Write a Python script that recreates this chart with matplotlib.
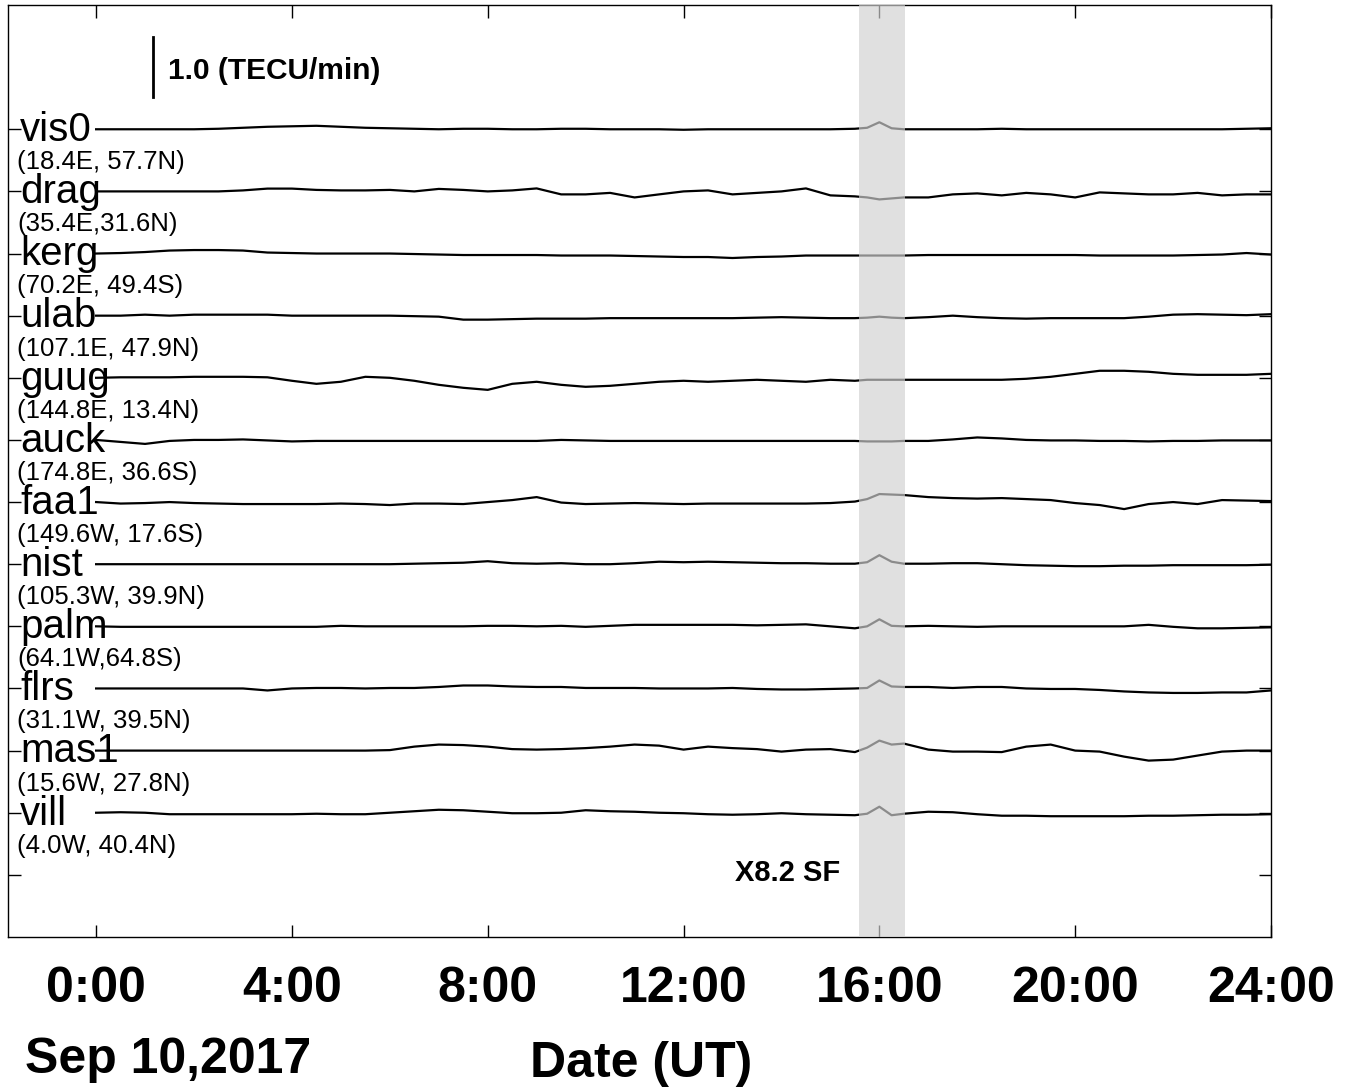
import matplotlib
matplotlib.use("Agg")
import matplotlib.pyplot as plt

plt.rcParams['font.family'] = ['Liberation Sans', 'DejaVu Sans']

# time grid (UT hours), finer around the flare
hours = [0, 0.5, 1, 1.5, 2, 2.5, 3, 3.5, 4, 4.5, 5, 5.5, 6, 6.5, 7, 7.5, 8, 8.5,
         9, 9.5, 10, 10.5, 11, 11.5, 12, 12.5, 13, 13.5, 14, 14.5, 15, 15.5,
         15.75, 16, 16.25, 16.5, 17, 17.5, 18, 18.5, 19, 19.5, 20, 20.5, 21,
         21.5, 22, 22.5, 23, 23.5, 24]

stations = ['vis0', 'drag', 'kerg', 'ulab', 'guug', 'auck',
            'faa1', 'nist', 'palm', 'flrs', 'mas1', 'vill']
coords = ['(18.4E, 57.7N)', '(35.4E,31.6N)', '(70.2E, 49.4S)', '(107.1E, 47.9N)',
          '(144.8E, 13.4N)', '(174.8E, 36.6S)', '(149.6W, 17.6S)', '(105.3W, 39.9N)',
          '(64.1W,64.8S)', '(31.1W, 39.5N)', '(15.6W, 27.8N)', '(4.0W, 40.4N)']

# rate of TEC change (TECU/min)
vis0 = [0, 0, 0, 0, 0, 0.008, 0.024, 0.04, 0.048, 0.056, 0.04, 0.024, 0.016, 0.008, 0, 0.008, 0.008,
        0, 0, 0.008, 0.008, 0, 0, 0, -0.008, 0, 0, 0, 0, 0, 0, 0.008,
        0.024, 0.113, 0.016, 0, 0, 0, 0, 0.008, 0, 0, 0, 0, 0, 0, 0, 0, 0, 0.008, 0.016]
drag = [0, 0, 0, 0, 0, 0, 0.016, 0.045, 0.045, 0.024, 0.016, 0.016, 0.024, 0, 0.04, 0.024, 0,
        0.016, 0.048, -0.048, -0.048, -0.024, -0.097, -0.048, 0, 0.016, -0.048, -0.024, 0, 0.048, -0.064, -0.08,
        -0.097, -0.129, -0.113, -0.097, -0.097, -0.048, -0.032, -0.064, -0.024, -0.048, -0.097, -0.016, -0.032,
        -0.048, -0.048, -0.024, -0.064, -0.048, -0.048]
kerg = [0, 0.008, 0.024, 0.048, 0.056, 0.056, 0.048, 0.016, 0.008, 0, 0, 0, 0, -0.008, -0.016, -0.024, -0.024,
        -0.024, -0.024, -0.032, -0.032, -0.032, -0.04, -0.048, -0.056, -0.056, -0.072, -0.056, -0.048, -0.032, -0.032, -0.032,
        -0.032, -0.032, -0.032, -0.032, -0.024, -0.024, -0.024, -0.024, -0.024, -0.024, -0.024, -0.032, -0.032,
        -0.032, -0.032, -0.024, -0.016, 0.008, -0.016]
ulab = [0, 0, 0.016, 0, 0.016, 0.016, 0.016, 0.016, 0, 0, 0, 0, 0, -0.008, -0.016, -0.064, -0.064,
        -0.056, -0.048, -0.048, -0.048, -0.04, -0.04, -0.04, -0.04, -0.04, -0.04, -0.032, -0.024, -0.032, -0.04, -0.04,
        -0.032, -0.016, -0.032, -0.04, -0.024, 0, -0.024, -0.04, -0.048, -0.04, -0.04, -0.04, -0.04,
        -0.016, 0.016, 0.024, 0.016, 0.008, 0.024]
guug = [0, 0.008, 0.008, 0.008, 0.016, 0.016, 0.016, 0.008, -0.048, -0.097, -0.064, 0.016, 0, -0.048, -0.113, -0.161, -0.194,
        -0.097, -0.064, -0.113, -0.145, -0.129, -0.097, -0.064, -0.048, -0.064, -0.048, -0.032, -0.048, -0.064, -0.032, -0.048,
        -0.032, -0.032, -0.032, -0.032, -0.032, -0.032, -0.032, -0.032, -0.016, 0.016, 0.064, 0.113, 0.113,
        0.097, 0.064, 0.048, 0.048, 0.048, 0.064]
auck = [0, -0.032, -0.064, -0.016, 0, 0, 0.008, -0.008, -0.024, -0.016, -0.016, -0.016, -0.016, -0.016, -0.016, -0.016, -0.016,
        -0.016, -0.016, 0, -0.008, -0.016, -0.016, -0.016, -0.016, -0.016, -0.016, -0.016, -0.016, -0.016, -0.016, -0.016,
        -0.024, -0.024, -0.024, -0.016, -0.016, 0.008, 0.04, 0.024, 0, -0.008, -0.008, -0.016, -0.016,
        -0.024, -0.016, -0.016, -0.008, -0.008, -0.008]
faa1 = [0, -0.024, -0.016, 0, -0.016, -0.024, -0.032, -0.032, -0.032, -0.032, -0.024, -0.032, -0.048, -0.024, -0.024, -0.032, 0,
        0.032, 0.08, -0.008, -0.032, -0.024, -0.016, -0.024, -0.032, -0.024, -0.024, -0.024, -0.024, -0.024, -0.016, 0.008,
        0.048, 0.129, 0.121, 0.113, 0.08, 0.064, 0.056, 0.064, 0.048, 0.032, -0.016, -0.048, -0.113,
        -0.032, 0, -0.032, 0.032, 0.024, 0.016]
nist = [0, 0, 0, 0, 0, 0, 0, 0, 0, 0, 0, 0, 0, 0.008, 0.016, 0.024, 0.048,
        0.016, 0.008, 0.016, 0, 0, 0.016, 0.04, 0.032, 0.04, 0.032, 0.024, 0.016, 0.016, 0.008, 0.008,
        0.032, 0.145, 0.04, 0.008, 0.008, 0.016, 0.016, 0, -0.016, -0.024, -0.032, -0.032, -0.024,
        -0.024, -0.016, -0.016, -0.016, -0.016, -0.008]
palm = [0, -0.008, -0.008, -0.008, -0.008, -0.008, -0.008, -0.008, -0.008, -0.008, 0.008, 0, 0, 0, 0, 0, 0.008,
        0.008, 0, 0.008, -0.008, 0.008, 0.024, 0.024, 0.024, 0.024, 0.024, 0.016, 0.024, 0.032, 0, -0.032,
        0, 0.113, 0.008, 0, 0.008, 0, -0.008, 0, 0, 0, 0, 0, 0,
        0.024, -0.008, -0.032, -0.032, -0.024, -0.016]
flrs = [0, 0, 0, 0, 0, 0, 0, -0.032, 0, 0.008, 0.008, 0, 0.008, 0.008, 0.024, 0.048, 0.048,
        0.032, 0.024, 0.024, 0.008, 0.008, 0.008, 0, 0, 0, 0.008, -0.008, -0.016, -0.016, -0.008, 0,
        0.008, 0.129, 0.032, 0.024, 0.024, 0.008, 0.024, 0.024, 0, -0.008, -0.008, -0.024, -0.048,
        -0.064, -0.072, -0.072, -0.064, -0.064, -0.032]
mas1 = [0, 0, 0, 0, 0, 0, 0, 0, 0, 0, 0, 0, 0.008, 0.064, 0.097, 0.089, 0.064,
        0.024, 0.016, 0.024, 0.04, 0.064, 0.097, 0.08, 0.016, 0.064, 0.04, 0.024, -0.016, 0.016, 0.024, -0.024,
        0.048, 0.161, 0.097, 0.113, 0.016, -0.016, -0.016, -0.024, 0.064, 0.097, 0, -0.016, -0.097,
        -0.161, -0.145, -0.08, -0.016, 0, 0]
vill = [0, 0.008, 0, -0.024, -0.024, -0.024, -0.024, -0.024, -0.024, -0.016, -0.024, -0.024, 0, 0.024, 0.048, 0.04, 0.016,
        -0.008, -0.008, 0, 0.04, 0.024, 0.016, 0, -0.008, -0.024, -0.032, -0.024, -0.008, -0.024, -0.032, -0.04,
        -0.016, 0.097, -0.04, -0.016, 0.016, 0.008, -0.024, -0.048, -0.048, -0.056, -0.056, -0.056, -0.056,
        -0.048, -0.048, -0.04, -0.032, -0.032, -0.024]

series = [vis0, drag, kerg, ulab, guug, auck, faa1, nist, palm, flrs, mas1, vill]
for name, s in zip(stations, series):
    assert len(s) == len(hours), (name, len(s))

flare_start, flare_end = 15.58, 16.52
xticks = [0, 4, 8, 12, 16, 20, 24]
xticklabels = ['0:00', '4:00', '8:00', '12:00', '16:00', '20:00', '24:00']

fig = plt.figure(figsize=(13.57, 10.92), dpi=100)
ax = fig.add_axes([8 / 1357, 1 - 937 / 1092, 1263 / 1357, 932 / 1092])

n = len(stations)
for i, (name, s) in enumerate(zip(stations, series)):
    off = n - i
    ax.plot(hours, [off + v for v in s], color='black', lw=1.6, zorder=2)
    ax.text(-1.55, off - 0.19, name, fontsize=29, va='baseline', ha='left', zorder=4)
    ax.text(-1.61, off - 0.53, coords[i], fontsize=18.5, va='center', ha='left', zorder=4)

# flare window drawn over the traces
ax.axvspan(flare_start, flare_end, color=(0.82, 0.82, 0.82), alpha=0.67, lw=0, zorder=3)
ax.text(13.05, 0.03, 'X8.2 SF', fontsize=21, fontweight='bold', va='center', ha='left')

# scale bar
ax.plot([1.16, 1.16], [12.52, 13.48], color='black', lw=2)
ax.text(1.47, 12.94, '1.0 (TECU/min)', fontsize=21.5, fontweight='bold', va='center', ha='left')

ax.set_xlim(-1.8, 24)
ax.set_ylim(-1, 14)
ax.set_xticks(xticks)
ax.set_xticklabels(xticklabels, fontsize=36, fontweight='bold')
ax.set_yticks(range(0, n + 1))
ax.set_yticklabels([])
ax.tick_params(direction='in', length=9, width=1, top=True, right=True, pad=21)
for sp in ax.spines.values():
    sp.set_linewidth(1)

fig.text(25 / 1357, 1 - 1060 / 1092, 'Sep 10,2017', fontsize=36, fontweight='bold', va='center', ha='left')
fig.text(530 / 1357, 1 - 1064 / 1092, 'Date (UT)', fontsize=36, fontweight='bold', va='center', ha='left')

fig.savefig('out.png', dpi=100)
